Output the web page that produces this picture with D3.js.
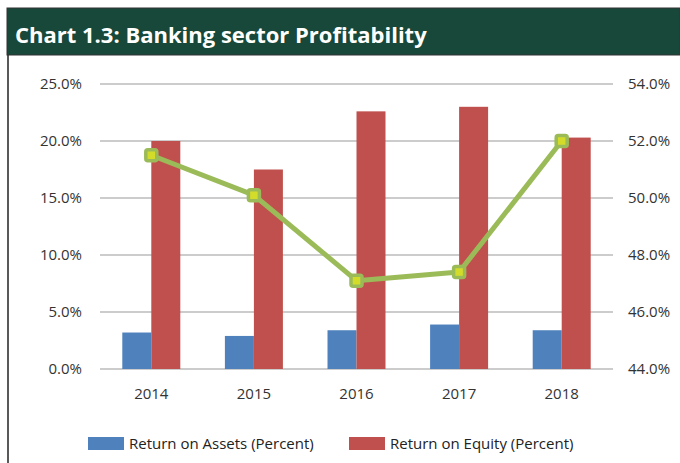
<!DOCTYPE html>
<html>
<head>
<meta charset="utf-8">
<script src="https://cdn.jsdelivr.net/npm/d3@7"></script>
<style>
  body { margin: 0; background: #fff; }
  svg { display: block; font-family: "Open Sans", "Noto Sans", sans-serif; }
</style>
</head>
<body>
<svg id="chartSVG"></svg>
<script>
// data
let years = ['2014', '2015', '2016', '2017', '2018'];
let roa = [3.2, 2.9, 3.4, 3.9, 3.4];
let roe = [20.0, 17.5, 22.6, 23.0, 20.3];
let lineVals = [51.5, 50.1, 47.1, 47.4, 52.0];
let leftTicks = [0, 5, 10, 15, 20, 25];
let rightTicks = [44, 46, 48, 50, 52, 54];

let widthSVG = 680;
let heightSVG = 463;
let margins = { top: 84, bottom: 94, left: 100, right: 67 };

let width = widthSVG - margins.left - margins.right;
let height = heightSVG - margins.top - margins.bottom;

let SVG = d3.select('svg#chartSVG')
            .attr('width', widthSVG)
            .attr('height', heightSVG);

// frame + title band
SVG.append('line')
   .attr('x1', 8).attr('x2', 8).attr('y1', 54).attr('y2', heightSVG)
   .style('stroke', '#222').style('stroke-width', 1.5);

SVG.append('rect')
   .attr('x', 7).attr('y', 8).attr('width', widthSVG - 7).attr('height', 47)
   .style('fill', '#17483a')
   .style('stroke', '#333').style('stroke-width', 1);

SVG.append('text')
   .attr('x', 15).attr('y', 43)
   .text('Chart 1.3: Banking sector Profitability')
   .style('fill', '#fff')
   .style('font-size', '22px')
   .style('font-weight', 'bold');

let SVGG = SVG.append('g')
              .attr('transform', `translate(${margins.left}, ${margins.top})`);

let x = d3.scaleBand().domain(years).range([0, width]);
let yLeft = d3.scaleLinear().domain([0, 25]).range([height, 0]);
let yRight = d3.scaleLinear().domain([44, 54]).range([height, 0]);

// gridlines
SVGG.append('g')
    .selectAll('line')
    .data(leftTicks)
    .enter()
    .append('line')
    .attr('x1', 0).attr('x2', width)
    .attr('y1', d => yLeft(d)).attr('y2', d => yLeft(d))
    .style('stroke', '#999').style('stroke-width', 1);

// left axis labels
SVGG.append('g')
    .selectAll('text')
    .data(leftTicks)
    .enter()
    .append('text')
    .attr('x', -18)
    .attr('y', d => yLeft(d) + 5)
    .text(d => d.toFixed(1) + '%')
    .style('text-anchor', 'end')
    .style('font-size', '15px')
    .style('fill', '#333');

// right axis labels
SVGG.append('g')
    .selectAll('text')
    .data(rightTicks)
    .enter()
    .append('text')
    .attr('x', width + 15)
    .attr('y', d => yRight(d) + 5)
    .text(d => d.toFixed(1) + '%')
    .style('text-anchor', 'start')
    .style('font-size', '15px')
    .style('fill', '#333');

// category labels
SVGG.append('g')
    .selectAll('text')
    .data(years)
    .enter()
    .append('text')
    .attr('x', d => x(d) + x.bandwidth() / 2)
    .attr('y', height + 30)
    .text(d => d)
    .style('text-anchor', 'middle')
    .style('font-size', '15px')
    .style('fill', '#333');

let barW = 29;

SVGG.append('g')
    .selectAll('rect')
    .data(roa)
    .enter()
    .append('rect')
    .attr('x', (d, i) => x(years[i]) + x.bandwidth() / 2 - barW)
    .attr('y', d => yLeft(d))
    .attr('width', barW)
    .attr('height', d => height - yLeft(d))
    .style('fill', '#4f81bd');

SVGG.append('g')
    .selectAll('rect')
    .data(roe)
    .enter()
    .append('rect')
    .attr('x', (d, i) => x(years[i]) + x.bandwidth() / 2)
    .attr('y', d => yLeft(d))
    .attr('width', barW)
    .attr('height', d => height - yLeft(d))
    .style('fill', '#c0504d');

// line on right axis
let line = d3.line()
             .x((d, i) => x(years[i]) + x.bandwidth() / 2)
             .y(d => yRight(d));

SVGG.append('path')
    .datum(lineVals)
    .attr('d', line)
    .style('fill', 'none')
    .style('stroke', '#9bbb59')
    .style('stroke-width', 5)
    .style('stroke-linejoin', 'round');

SVGG.append('g')
    .selectAll('rect')
    .data(lineVals)
    .enter()
    .append('rect')
    .attr('x', (d, i) => x(years[i]) + x.bandwidth() / 2 - 5.5)
    .attr('y', d => yRight(d) - 5.5)
    .attr('width', 11)
    .attr('height', 11)
    .attr('rx', 2)
    .style('fill', '#d4dc2a')
    .style('stroke', '#9bbb59')
    .style('stroke-width', 3.5);

// legend
let legendItems = [
  { label: 'Return on Assets (Percent)', color: '#4f81bd', x: 88 },
  { label: 'Return on Equity (Percent)', color: '#c0504d', x: 349 }
];

let legend = SVG.append('g')
                .selectAll('g')
                .data(legendItems)
                .enter()
                .append('g')
                .attr('transform', d => `translate(${d.x}, 437)`);

legend.append('rect')
      .attr('width', 36).attr('height', 13)
      .style('fill', d => d.color);

legend.append('text')
      .attr('x', 41).attr('y', 12)
      .text(d => d.label)
      .style('font-size', '15px')
      .style('fill', '#222');
</script>
</body>
</html>
